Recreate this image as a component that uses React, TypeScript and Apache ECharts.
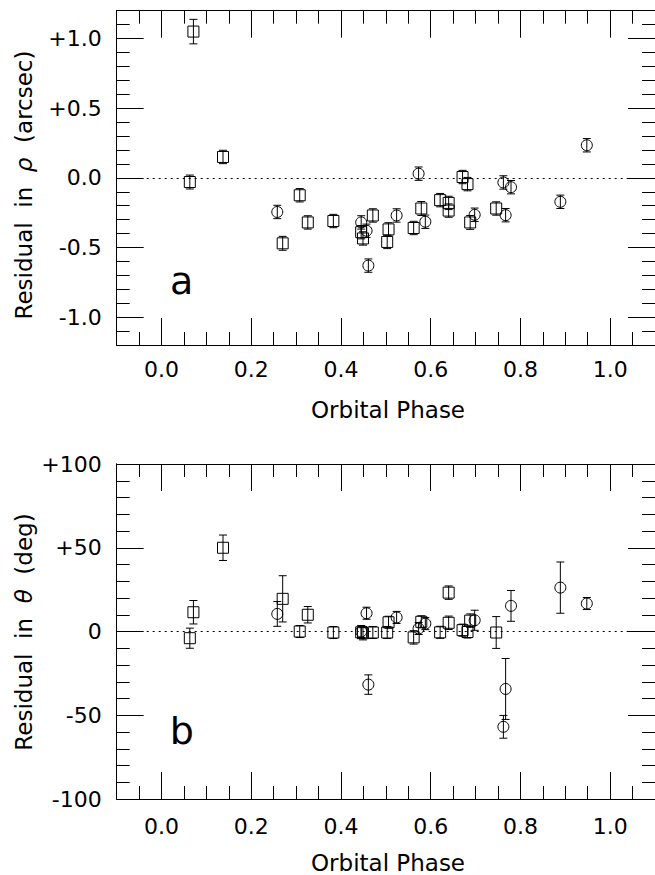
import React, { useEffect, useRef } from "react";
import * as echarts from "echarts";

// Square-marker observations: orbital phase, residuals in separation (arcsec) and position angle (deg)
const sqPhase = [0.063, 0.071, 0.137, 0.270, 0.308, 0.326, 0.383, 0.445, 0.449, 0.471, 0.506, 0.503, 0.562, 0.579, 0.621, 0.640, 0.640, 0.671, 0.682, 0.688, 0.746];
const sqRho = [-0.03, 1.05, 0.15, -0.47, -0.125, -0.32, -0.31, -0.39, -0.435, -0.27, -0.37, -0.46, -0.36, -0.22, -0.16, -0.18, -0.235, 0.006, -0.045, -0.32, -0.22];
const sqRhoErr = [0.05, 0.088, 0.048, 0.05, 0.048, 0.048, 0.048, 0.048, 0.048, 0.048, 0.048, 0.048, 0.048, 0.05, 0.048, 0.048, 0.048, 0.048, 0.048, 0.05, 0.048];
const sqTheta = [-4, 11.5, 50, 19.5, 0, 10, -0.6, -0.5, -1, -0.6, 5.5, -0.6, -3.5, 5.8, -0.5, 23.2, 5.2, 0.8, -0.3, 6.5, -0.6];
const sqThetaErr = [6, 7, 7.6, 13.8, 3.6, 4.9, 3.6, 3.6, 4, 3.6, 3.6, 3.6, 4, 3.6, 3.6, 4, 4, 3.6, 3.6, 4, 9.5];

// Circle-marker observations
const ciPhase = [0.258, 0.445, 0.457, 0.461, 0.524, 0.573, 0.588, 0.698, 0.762, 0.767, 0.779, 0.889, 0.948];
const ciRho = [-0.245, -0.32, -0.38, -0.63, -0.27, 0.03, -0.315, -0.265, -0.033, -0.268, -0.067, -0.172, 0.234];
const ciRhoErr = [0.048, 0.048, 0.048, 0.048, 0.048, 0.048, 0.048, 0.048, 0.048, 0.048, 0.048, 0.048, 0.048];
const ciTheta = [10.5, 0, 10.9, -31.7, 8.4, 1.8, 4.7, 6.7, -56.9, -34.3, 15.3, 26.2, 16.7];
const ciThetaErr = [7.4, 3.6, 3.6, 5.8, 3.6, 3.6, 3.6, 6, 6.8, 18.2, 9.2, 15.3, 3.6];

// Tick positions
const phaseMajor = [0, 0.2, 0.4, 0.6, 0.8, 1.0];
const phaseMinor = [-0.05, 0, 0.05, 0.1, 0.15, 0.2, 0.25, 0.3, 0.35, 0.4, 0.45, 0.5, 0.55, 0.6, 0.65, 0.7, 0.75, 0.8, 0.85, 0.9, 0.95, 1.0, 1.05];
const rhoMajor = [-1.0, -0.5, 0, 0.5, 1.0];
const rhoMinor = [-1.1, -1.0, -0.9, -0.8, -0.7, -0.6, -0.5, -0.4, -0.3, -0.2, -0.1, 0, 0.1, 0.2, 0.3, 0.4, 0.5, 0.6, 0.7, 0.8, 0.9, 1.0, 1.1];
const thetaMajor = [-100, -50, 0, 50, 100];
const thetaMinor = [-90, -80, -70, -60, -50, -40, -30, -20, -10, 0, 10, 20, 30, 40, 50, 60, 70, 80, 90];

const FONT = "DejaVu Sans";
const INK = "#000";

function rows(phase: number[], val: number[], err: number[], kind: number) {
  return phase.map((p, i) => [p, val[i], err[i], kind]);
}

function fmtRho(v: number) {
  if (Math.abs(v) < 1e-9) return "0.0";
  return (v > 0 ? "+" : "") + v.toFixed(1);
}
function fmtTheta(v: number) {
  if (Math.abs(v) < 1e-9) return "0";
  return (v > 0 ? "+" : "") + String(v);
}

function errorBarItem(params: any, api: any) {
  const x = api.value(0);
  const y = api.value(1);
  const e = api.value(2);
  const kind = api.value(3);
  const c = api.coord([x, y]);
  const hi = api.coord([x, y + e]);
  const lo = api.coord([x, y - e]);
  const cap = 4;
  const s = 5.5;
  const stroke = { stroke: INK, lineWidth: 1, fill: "none" };
  const children: any[] = [
    { type: "line", shape: { x1: c[0], y1: hi[1], x2: c[0], y2: lo[1] }, style: stroke },
    { type: "line", shape: { x1: c[0] - cap, y1: hi[1], x2: c[0] + cap, y2: hi[1] }, style: stroke },
    { type: "line", shape: { x1: c[0] - cap, y1: lo[1], x2: c[0] + cap, y2: lo[1] }, style: stroke },
    kind === 0
      ? { type: "rect", shape: { x: c[0] - s, y: c[1] - s, width: 2 * s, height: 2 * s }, style: stroke }
      : { type: "circle", shape: { cx: c[0], cy: c[1], r: s }, style: stroke },
  ];
  return { type: "group", children };
}

function xAxesFor(grid: number, labelMargin: number) {
  const base = {
    type: "value",
    gridIndex: grid,
    min: -0.1,
    max: 1.1,
    splitLine: { show: false },
    axisLine: { show: true, onZero: false, lineStyle: { color: INK, width: 1 } },
  };
  const major = { show: true, inside: true, length: 27, customValues: phaseMajor, lineStyle: { color: INK, width: 1 } };
  const minor = { show: true, inside: true, length: 13, customValues: phaseMinor, lineStyle: { color: INK, width: 1 } };
  return [
    {
      ...base,
      position: "bottom",
      axisTick: major,
      axisLabel: {
        show: true,
        customValues: phaseMajor,
        formatter: (v: number) => v.toFixed(1),
        color: INK,
        fontFamily: FONT,
        fontSize: 22,
        margin: labelMargin,
      },
    },
    { ...base, position: "bottom", axisTick: minor, axisLabel: { show: false } },
    { ...base, position: "top", axisTick: major, axisLabel: { show: false } },
    { ...base, position: "top", axisTick: minor, axisLabel: { show: false } },
  ];
}

function yAxesFor(grid: number, min: number, max: number, major: number[], minorVals: number[], fmt: (v: number) => string) {
  const base = {
    type: "value",
    gridIndex: grid,
    min,
    max,
    splitLine: { show: false },
    axisLine: { show: true, onZero: false, lineStyle: { color: INK, width: 1 } },
  };
  const majT = { show: true, inside: true, length: 27, customValues: major, lineStyle: { color: INK, width: 1 } };
  const minT = { show: true, inside: true, length: 13, customValues: minorVals, lineStyle: { color: INK, width: 1 } };
  return [
    {
      ...base,
      position: "left",
      axisTick: majT,
      axisLabel: {
        show: true,
        customValues: major,
        formatter: fmt,
        color: INK,
        fontFamily: FONT,
        fontSize: 22,
        margin: 15,
      },
    },
    { ...base, position: "left", axisTick: minT, axisLabel: { show: false } },
    { ...base, position: "right", axisTick: majT, axisLabel: { show: false } },
    { ...base, position: "right", axisTick: minT, axisLabel: { show: false } },
  ];
}

const zeroLine = {
  silent: true,
  symbol: ["none", "none"],
  label: { show: false },
  lineStyle: { type: [2, 4], color: INK, width: 1 },
  data: [{ yAxis: 0 }],
};

export default function App() {
  const ref = useRef<HTMLDivElement>(null);

  useEffect(() => {
    if (!ref.current) return;
    const chart = echarts.init(ref.current, null, { renderer: "svg", width: 655, height: 875 });

    const rhoData = [...rows(sqPhase, sqRho, sqRhoErr, 0), ...rows(ciPhase, ciRho, ciRhoErr, 1)];
    const thetaData = [...rows(sqPhase, sqTheta, sqThetaErr, 0), ...rows(ciPhase, ciTheta, ciThetaErr, 1)];

    chart.setOption({
      animation: false,
      backgroundColor: "#fff",
      grid: [
        { left: 116.7, top: 10.7, width: 541.8, height: 334.3 },
        { left: 116.7, top: 464, width: 541.8, height: 335 },
      ],
      xAxis: [...xAxesFor(0, 13), ...xAxesFor(1, 16)],
      yAxis: [
        ...yAxesFor(0, -1.2, 1.2, rhoMajor, rhoMinor, fmtRho),
        ...yAxesFor(1, -100, 100, thetaMajor, thetaMinor, fmtTheta),
      ],
      series: [
        {
          type: "custom",
          xAxisIndex: 0,
          yAxisIndex: 0,
          renderItem: errorBarItem,
          data: rhoData,
          markLine: zeroLine,
          z: 3,
        },
        {
          type: "custom",
          xAxisIndex: 4,
          yAxisIndex: 4,
          renderItem: errorBarItem,
          data: thetaData,
          markLine: zeroLine,
          z: 3,
        },
      ],
      graphic: [
        {
          type: "text",
          x: 181.7,
          y: 281,
          style: { text: "a", fontFamily: FONT, fontSize: 38, fill: INK, align: "center", verticalAlign: "middle" },
        },
        {
          type: "text",
          x: 181.7,
          y: 731,
          style: { text: "b", fontFamily: FONT, fontSize: 38, fill: INK, align: "center", verticalAlign: "middle" },
        },
        {
          type: "text",
          x: 388,
          y: 410,
          style: { text: "Orbital Phase", fontFamily: FONT, fontSize: 23, fill: INK, align: "center", verticalAlign: "middle" },
        },
        {
          type: "text",
          x: 388,
          y: 863,
          style: { text: "Orbital Phase", fontFamily: FONT, fontSize: 23, fill: INK, align: "center", verticalAlign: "middle" },
        },
        {
          type: "text",
          x: 24,
          y: 185,
          rotation: Math.PI / 2,
          style: {
            text: "Residual  in  {g|ρ}  (arcsec)",
            fontFamily: FONT,
            fontSize: 23,
            fill: INK,
            align: "center",
            verticalAlign: "middle",
            rich: { g: { fontFamily: FONT, fontSize: 23, fontStyle: "italic", fill: INK } },
          },
        },
        {
          type: "text",
          x: 24,
          y: 632,
          rotation: Math.PI / 2,
          style: {
            text: "Residual  in  {g|θ}  (deg)",
            fontFamily: FONT,
            fontSize: 23,
            fill: INK,
            align: "center",
            verticalAlign: "middle",
            rich: { g: { fontFamily: FONT, fontSize: 23, fontStyle: "italic", fill: INK } },
          },
        },
      ],
    });

    return () => chart.dispose();
  }, []);

  return (
    <div
      ref={ref}
      style={{ position: "fixed", left: 0, top: 0, width: 655, height: 875, background: "#fff" }}
    />
  );
}
